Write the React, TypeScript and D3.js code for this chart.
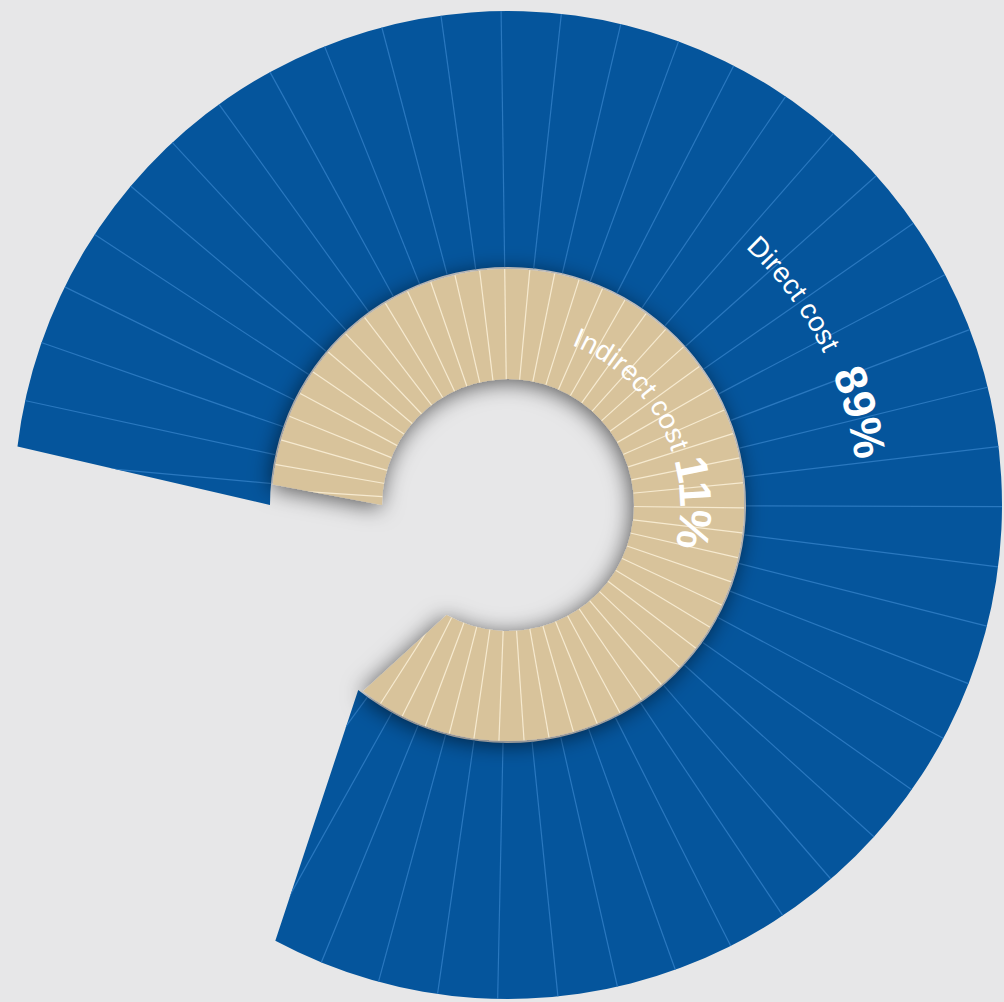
import React from "react";
import * as d3 from "d3";

// ---- data ----
const CATEGORIES = ["Indirect cost", "Direct cost"];
const SHARES = [11, 89];
const COLORS = ["#d8c39b", "#05559c"];
const RULE_COLORS = ["#f6ead0", "#2a78bf"];

// ---- layout ----
const W = 1004;
const H = 1002;
const CX = 508;
const CY = 505;

const RINGS = [
  { r0: 126, r1: 236, startIn: -90, startOut: -85, endIn: 209.2, endOut: 217.9, textR: 172, labelAt: 21.7, valueAt: 74.8, step: 6.1 },
  { r0: 238, r1: 494, startIn: -90, startOut: -83.2, endIn: 219, endOut: 208.1, textR: 350, labelAt: 42.7, valueAt: 67.9, step: 7 },
];

const rad = (d: number) => (d * Math.PI) / 180;
const pt = (r: number, deg: number): [number, number] => [CX + r * Math.sin(rad(deg)), CY - r * Math.cos(rad(deg))];

function ruleAngles(step: number) {
  return d3.range(Math.floor(-95 / step), Math.ceil(225 / step)).map((k) => -0.8 + step * k);
}

function ringPath(g: any) {
  const p = d3.path();
  const [x0, y0] = pt(g.r1, g.startOut);
  p.moveTo(x0, y0);
  p.arc(CX, CY, g.r1, rad(g.startOut - 90), rad(g.endOut - 90), false);
  const [x1, y1] = pt(g.r0, g.endIn);
  p.lineTo(x1, y1);
  p.arc(CX, CY, g.r0, rad(g.endIn - 90), rad(g.startIn - 90), true);
  p.closePath();
  return p.toString();
}

function circlePath(r: number) {
  const p = d3.path();
  const [x0, y0] = pt(r, 0);
  p.moveTo(x0, y0);
  p.arc(CX, CY, r, rad(-90), rad(269.9), false);
  return p.toString();
}

export default function App() {
  const order = [1, 0];
  return (
    <svg
      width={W}
      height={H}
      style={{ position: "absolute", left: 0, top: 0, display: "block" }}
      fontFamily="'Liberation Sans', Arial, Helvetica, sans-serif"
    >
      <defs>
        <filter id="shadow" x="-30%" y="-30%" width="160%" height="160%">
          <feDropShadow dx={-2} dy={3} stdDeviation={11} floodColor="#000" floodOpacity={0.62} />
        </filter>
        {RINGS.map((g, i) => (
          <clipPath id={`clip${i}`} key={`c${i}`}>
            <path d={ringPath(g)} />
          </clipPath>
        ))}
        {RINGS.map((g, i) => (
          <path id={`tp${i}`} key={`tp${i}`} d={circlePath(g.textR)} fill="none" />
        ))}
      </defs>
      <rect x={0} y={0} width={W} height={H} fill="#e7e7e8" />
      {order.map((i) => {
        const g = RINGS[i];
        return (
          <g key={CATEGORIES[i]}>
            <path d={ringPath(g)} fill={COLORS[i]} filter={i === 0 ? "url(#shadow)" : undefined} />
            <g clipPath={`url(#clip${i})`}>
              {ruleAngles(g.step).map((a) => {
                const [xa, ya] = pt(g.r0 - 4, a);
                const [xb, yb] = pt(g.r1 + 4, a);
                return (
                  <line key={a} x1={xa} y1={ya} x2={xb} y2={yb} stroke={RULE_COLORS[i]} strokeWidth={1.2} />
                );
              })}
            </g>
            <text fill="#ffffff" fontSize={28}>
              <textPath href={`#tp${i}`} startOffset={g.textR * rad(g.labelAt)}>
                {CATEGORIES[i]}
              </textPath>
            </text>
            <text fill="#ffffff" fontSize={45} fontWeight="bold">
              <textPath href={`#tp${i}`} startOffset={g.textR * rad(g.valueAt)}>
                {`${SHARES[i]}%`}
              </textPath>
            </text>
          </g>
        );
      })}
    </svg>
  );
}
